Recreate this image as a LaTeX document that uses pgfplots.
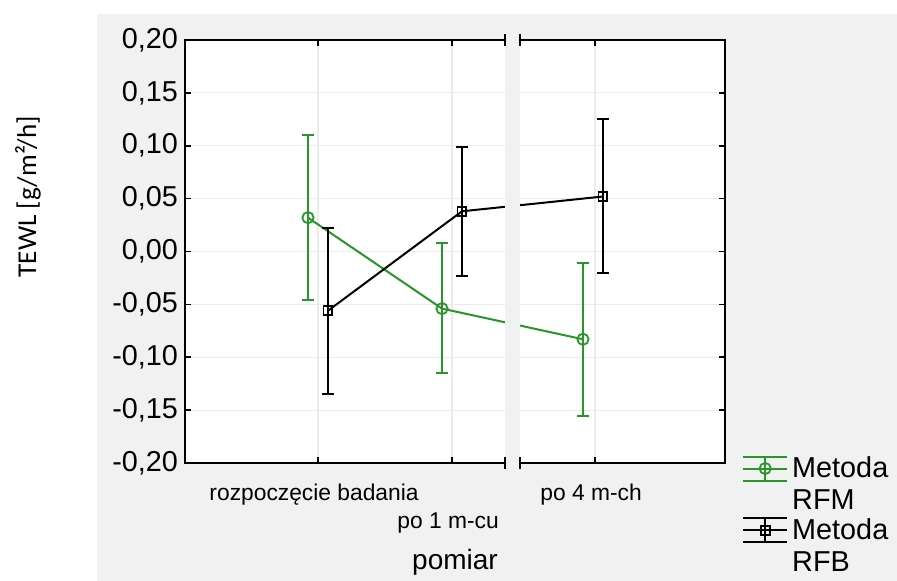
\documentclass[border=0pt]{standalone}
\usepackage{fontspec}
\setmainfont{Liberation Sans}
\newfontfamily\carlito{Carlito}
\usepackage{pgfplots}
\pgfplotsset{compat=1.18}
\definecolor{bgcol}{RGB}{241,241,241}
\definecolor{grn}{RGB}{40,150,40}
\definecolor{gridc}{RGB}{235,235,235}
\begin{document}
\begin{tikzpicture}
\useasboundingbox (-92.5pt,-59pt) rectangle (356pt,231.5pt);
\fill[white] (-92.5pt,-59pt) rectangle (356pt,231.5pt);
\fill[bgcol] (-44pt,-59pt) rectangle (356pt,224.5pt);
\begin{axis}[
  at={(0,0)}, anchor=south west,
  width=270pt, height=211.5pt, scale only axis,
  axis background/.style={fill=white},
  xmin=0, xmax=4.03, ymin=-0.2, ymax=0.2,
  xtick={0.993,1.993,3.06},
  xticklabels={rozpoczęcie badania,{\strut\\po 1 m-cu},po 4 m-ch},
  xticklabel style={font=\fontsize{11.4}{13}\selectfont, align=center, xshift=-2pt, yshift=-7pt},
  ytick={-0.2,-0.15,-0.1,-0.05,0,0.05,0.1,0.15,0.2},
  yticklabel style={font=\fontsize{14.4}{16}\selectfont},
  /pgf/number format/use comma,
  /pgf/number format/fixed,
  /pgf/number format/fixed zerofill,
  /pgf/number format/precision=2,
  /pgf/number format/assume math mode=true,
  scaled y ticks=false,
  grid=major, grid style={gridc, line width=0.6pt},
  tick align=inside, major tick length=3pt,
  tick style={black, line width=0.8pt},
  axis line style={line width=1pt},
  xlabel={pomiar},
  xlabel style={font=\fontsize{14}{16}\selectfont, at={(axis description cs:0.5,-0.235)}, anchor=center},
  ylabel={\carlito TEWL [g/m²/h]},
  ylabel style={font=\fontsize{13.6}{15}\selectfont, at={(axis description cs:-0.291,0.629)}, anchor=center},
  legend style={draw=none, fill=none, font=\fontsize{14.4}{16}\selectfont,
    at={(axis description cs:1.02,0.035)}, anchor=north west,
    nodes={align=left}, row sep=-1pt},
  legend cell align=left,
  legend image code/.code={
    \draw[#1,mark=none] (0pt,8pt) -- (22pt,8pt);
    \draw[#1,mark=none] (0pt,14pt) -- (22pt,14pt);
    \draw[#1,mark=none] (0pt,2pt) -- (22pt,2pt);
    \draw[#1,mark=none] (11pt,2pt) -- (11pt,14pt);
    \draw[#1] plot coordinates {(11pt,8pt)};
  },
  clip=false,
]
\addplot+[grn, line width=1pt, mark=o, mark size=2.8pt, mark options={grn, fill=none, line width=0.9pt},
  error bars/.cd, y dir=both, y explicit,
  error bar style={grn, line width=1pt},
  error mark options={grn, rotate=90, mark size=3pt, line width=1pt}]
coordinates {
  (0.918,0.032) += (0,0.078) -= (0,0.078)
  (1.918,-0.054) += (0,0.062) -= (0,0.061)
  (2.970,-0.083) += (0,0.072) -= (0,0.073)
};
\addlegendentry{Metoda\\RFM}
\addplot+[black, line width=1pt, mark=square, mark size=2.2pt, mark options={black, fill=none, line width=0.9pt},
  error bars/.cd, y dir=both, y explicit,
  error bar style={black, line width=1pt},
  error mark options={black, rotate=90, mark size=3pt, line width=1pt}]
coordinates {
  (1.067,-0.056) += (0,0.078) -= (0,0.079)
  (2.067,0.038) += (0,0.061) -= (0,0.061)
  (3.119,0.052) += (0,0.073) -= (0,0.072)
};
\addlegendentry{Metoda\\RFB}
\end{axis}
\fill[bgcol] (160pt,-1.5pt) rectangle (167.5pt,213pt);
\draw[line width=1pt] (160pt,-3pt) -- (160pt,3pt) (167.5pt,-3pt) -- (167.5pt,3pt);
\draw[line width=1pt] (160pt,208.5pt) -- (160pt,214.5pt) (167.5pt,208.5pt) -- (167.5pt,214.5pt);
\end{tikzpicture}
\end{document}
